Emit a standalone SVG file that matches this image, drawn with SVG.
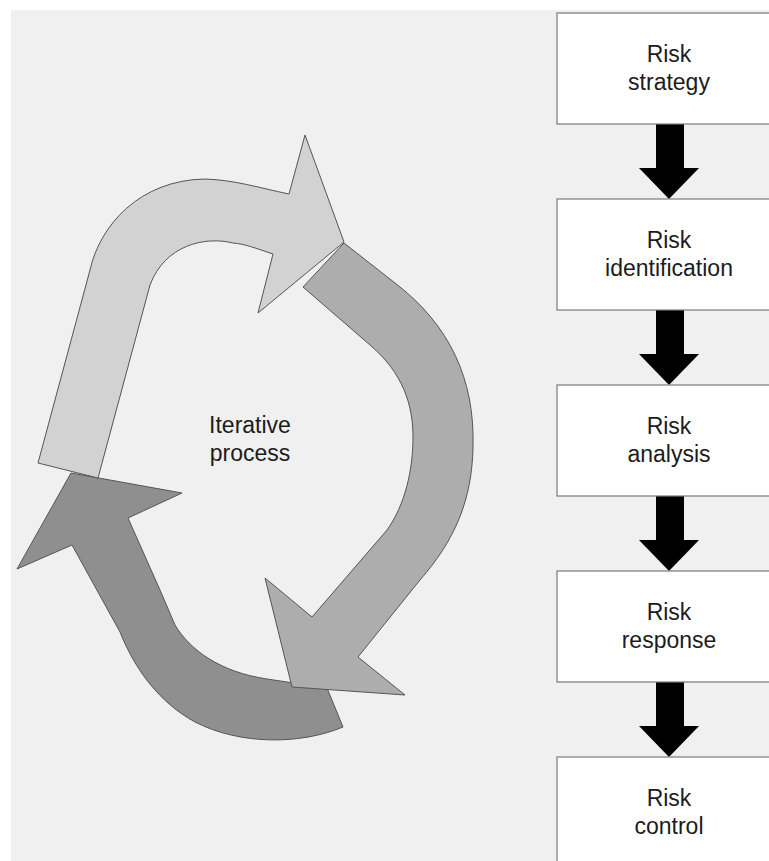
<svg xmlns="http://www.w3.org/2000/svg" width="769" height="861" viewBox="0 0 769 861">
<style>
.bg{fill:#f0f0f0}
.box{fill:#ffffff;stroke:#7a7a7a;stroke-width:1.2}
.lbl{font-family:"Liberation Sans",Arial,sans-serif;font-size:23px;fill:#1c1c1c;text-anchor:middle}
.cyc{stroke:#555555;stroke-width:1;stroke-linejoin:miter}
.flow{fill:#000000}
</style>
<rect width="769" height="861" fill="#ffffff"/>
<rect class="bg" x="11" y="10" width="758" height="851"/>
<g id="cycle">
<path id="arrow-dark" class="cyc" fill="#8f8f8f" d="M343,727 C300,745 240,745 195,722 C160,703 135,670 120,632 L72,545 L17,569 L71,473 L182,493 L128,518 L160,590 L175,625 C190,650 220,672 267,679 L327,688 Z"/>
<path id="arrow-mid" class="cyc" fill="#adadad" d="M344,243 L395,283 C450,325 475,380 473,447 C472,500 455,540 420,580 L358,657 L405,695 L292,687 L265,578 L312,617 L387,530 C405,505 413,470 413,437 C413,405 403,373 370,345 L303,287 Z"/>
<path id="arrow-light" class="cyc" fill="#d2d2d2" d="M38,463 L90,270 C100,225 140,180 205,179 C235,180 260,188 289,194 L305,135 L344,242 L258,313 L273,254 C255,248 245,244 233,243 C205,236 165,245 150,285 L98,478 Z"/>
<text class="lbl" x="250" y="433">Iterative</text>
<text class="lbl" x="250" y="461">process</text>
</g>
<g id="connectors">
<rect class="flow" x="656" y="124" width="28" height="45"/>
<polygon class="flow" points="639,168 699,168 669,199"/>
<rect class="flow" x="656" y="310" width="28" height="45"/>
<polygon class="flow" points="639,354 699,354 669,385"/>
<rect class="flow" x="656" y="496" width="28" height="45"/>
<polygon class="flow" points="639,540 699,540 669,571"/>
<rect class="flow" x="656" y="682" width="28" height="45"/>
<polygon class="flow" points="639,726 699,726 669,757"/>
</g>
<g id="strategy">
<rect class="box" x="557" y="13" width="224" height="111"/>
<text class="lbl" x="669" y="62">Risk</text>
<text class="lbl" x="669" y="90">strategy</text>
</g>
<g id="identification">
<rect class="box" x="557" y="199" width="224" height="111"/>
<text class="lbl" x="669" y="248">Risk</text>
<text class="lbl" x="669" y="276">identification</text>
</g>
<g id="analysis">
<rect class="box" x="557" y="385" width="224" height="111"/>
<text class="lbl" x="669" y="434">Risk</text>
<text class="lbl" x="669" y="462">analysis</text>
</g>
<g id="response">
<rect class="box" x="557" y="571" width="224" height="111"/>
<text class="lbl" x="669" y="620">Risk</text>
<text class="lbl" x="669" y="648">response</text>
</g>
<g id="control">
<rect class="box" x="557" y="757" width="224" height="111"/>
<text class="lbl" x="669" y="806">Risk</text>
<text class="lbl" x="669" y="834">control</text>
</g>
</svg>
